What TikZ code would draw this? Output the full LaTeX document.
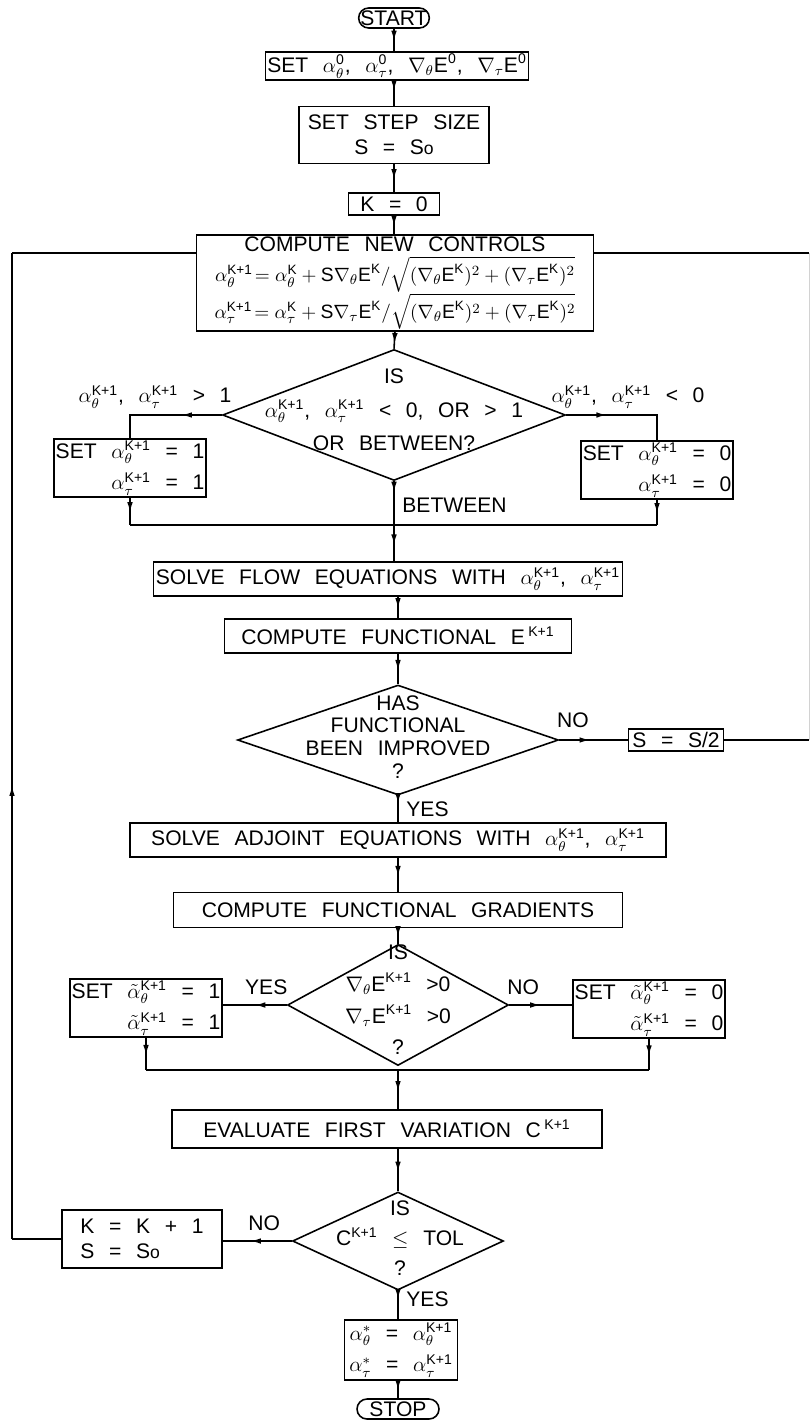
\documentclass[tikz,border=0pt]{standalone}
\usepackage{amsmath}
\usepackage{fontspec}
\setmainfont{Liberation Sans}[WordSpace=2.5]
\usetikzlibrary{arrows.meta, positioning, shapes.geometric, calc, decorations.markings}

\newcommand{\alth}[1]{\alpha_\theta^{\text{#1}}}
\newcommand{\alta}[1]{\alpha_\tau^{\text{#1}}}
\newcommand{\tlth}[1]{\tilde{\alpha}_\theta^{\text{#1}}}
\newcommand{\tlta}[1]{\tilde{\alpha}_\tau^{\text{#1}}}
\newcommand{\gradE}[2]{\nabla_{#1}\text{E}^{\text{#2}}}

\begin{document}
\begin{tikzpicture}[x=0.02cm, y=-0.02cm, line width=0.9pt, >=Latex,
  font=\fontsize{12}{14}\selectfont,
  box/.style={draw, inner sep=1pt, align=center},
  twoline/.style={font=\fontsize{12}{18}\selectfont},
  term/.style={draw, rounded corners=0.2cm, inner sep=1pt, minimum height=0.4cm},
  decision/.style={draw, diamond, inner sep=0pt},
  dtext/.style={align=center, inner sep=0pt},
  flow/.style={postaction={decorate}, decoration={markings,
    mark=at position #1 with {\arrow{Latex[length=6pt,width=3.2pt]}}}},
  flow/.default=0.55]
\useasboundingbox (0,0) rectangle (811,1426);
% main column, top part
\node[term, minimum width=1.4cm] (start) at (394,18) {START};
\node[box, minimum width=5.2cm, minimum height=0.56cm] (init) at (397,66)
  {SET $\alth{0}$, $\alta{0}$, $\gradE{\theta}{0}$, $\gradE{\tau}{0}$};
\node[box, minimum width=3.8cm, minimum height=1.14cm] (stepsize) at (394,135) {SET STEP SIZE\\S = S{\fontsize{10}{12}\selectfont o}};
\node[box, minimum width=1.82cm, minimum height=0.44cm] (kzero) at (394,204) {K = 0};
\node[box, minimum width=7.94cm, minimum height=1.74cm, font=\fontsize{12}{17}\selectfont] (ctrl) at (395,283)
  {COMPUTE NEW CONTROLS\\
   {\fontsize{11}{13}\selectfont $\alth{K+1}\!= \alth{K}+\text{S}\gradE{\theta}{K}/\sqrt{(\gradE{\theta}{K})^2+(\gradE{\tau}{K})^2}$}\\
   {\fontsize{11}{13}\selectfont $\alta{K+1}\!= \alta{K}+\text{S}\gradE{\tau}{K}/\sqrt{(\gradE{\theta}{K})^2+(\gradE{\tau}{K})^2}$}};
\draw[flow] (start.south) -- (start.south |- init.north);
\draw[flow=0.4] (init.south -| stepsize.north) -- (stepsize.north);
\draw[flow] (stepsize.south) -- (kzero.north);
\draw[flow] (kzero.south) -- (kzero.south |- ctrl.north);

% first check: bounds of the controls
\node[decision, minimum width=6.86cm, minimum height=2.62cm] (chk1) at (394,415) {};
\node[dtext, font=\fontsize{12}{19}\selectfont] (chk1txt) at (394,410)
  {IS\\$\alth{K+1}$, $\alta{K+1}$ < 0, OR > 1\\OR BETWEEN?};
\node (gtone) at (155,397) {$\alth{K+1}$, $\alta{K+1}$ > 1};
\node (ltzero) at (628,397) {$\alth{K+1}$, $\alta{K+1}$ < 0};
\node[box, twoline, align=right, minimum width=2.84cm, minimum height=1.1cm] (setone) at (130,468)
  {SET $\alth{K+1}$ = 1\\$\alta{K+1}$ = 1};
\node[box, twoline, align=right, minimum width=2.34cm, minimum height=1.08cm] (setzero) at (657,470)
  {SET $\alth{K+1}$ = 0\\$\alta{K+1}$ = 0};
\coordinate (m1) at (394,525);
\draw[flow=0.7] (ctrl.south) -- (chk1.north);
\draw[flow=0.35] (chk1.west) -| (setone.north);
\draw[flow=0.35] (chk1.east) -| (setzero.north);
\draw[flow] (setone.south) -- (setone.south |- m1);
\draw[flow] (setzero.south) -- (setzero.south |- m1);
\draw (setone.south |- m1) -- (setzero.south |- m1);
\draw[flow=0.25] (chk1.south) -- node[right=1pt, pos=0.55] {BETWEEN} (m1);

% flow equations and functional
\node[box, minimum width=9.38cm, minimum height=0.68cm] (solflow) at (388,579)
  {SOLVE FLOW EQUATIONS WITH $\alth{K+1}$, $\alta{K+1}$};
\node[box, minimum width=6.94cm, minimum height=0.68cm] (func) at (398,636)
  {COMPUTE FUNCTIONAL E\,$^{\text{K+1}}$};
\draw[flow] (m1) -- (m1 |- solflow.north);
\draw[flow] (func.north |- solflow.south) -- (func.north);

% second check: improvement
\node[decision, minimum width=6.42cm, minimum height=2.2cm] (chk2) at (398,740) {};
\node[dtext, font=\fontsize{12}{13}\selectfont] (chk2txt) at (398,737)
  {HAS\\FUNCTIONAL\\BEEN IMPROVED\\?};
\node[box, minimum width=1.9cm, minimum height=0.44cm] (halve) at (676,740) {S = S/2};
\coordinate (rb) at (809,740);
\coordinate (rt) at (809,253);
\draw[flow] (func.south) -- (chk2.north);
\draw[flow=0.45] (chk2.east) -- node[above=3pt, pos=0.2] {NO} (halve.west);
\draw (halve.east) -- (rb);
\draw[gray!35, line width=0.5pt] (rb) -- (rt);
\draw (rt) -- (rt -| ctrl.east);

% adjoint and gradients
\node[box, minimum width=10.72cm, minimum height=0.68cm] (soladj) at (398,840)
  {SOLVE ADJOINT EQUATIONS WITH $\alth{K+1}$, $\alta{K+1}$};
\node[box, minimum width=8.98cm, minimum height=0.7cm] (grads) at (398,910)
  {COMPUTE FUNCTIONAL GRADIENTS};
\draw[flow=0.3] (chk2.south) -- node[right=1pt, pos=0.5] {YES} (soladj.north);
\draw[flow] (soladj.south) -- (grads.north);

% third check: sign of the gradients
\node[decision, minimum width=4.42cm, minimum height=2.42cm] (chk3) at (398,1005) {};
\node[dtext, font=\fontsize{12}{18}\selectfont] (chk3txt) at (398,1000)
  {IS\\$\gradE{\theta}{K+1}$ >0\\$\gradE{\tau}{K+1}$ >0\\?};
\node[box, twoline, align=right, minimum width=3.04cm, minimum height=0.96cm] (tone) at (146,1008)
  {SET $\tlth{K+1}$ = 1\\$\tlta{K+1}$ = 1};
\node[box, twoline, align=right, minimum width=2.96cm, minimum height=0.96cm] (tzero) at (649,1009)
  {SET $\tlth{K+1}$ = 0\\$\tlta{K+1}$ = 0};
\coordinate (m3) at (398,1070);
\draw[flow] (grads.south) -- (chk3.north);
\draw[flow=0.5] (chk3.west) -- node[above=2pt, pos=0.32] {YES} (tone.east |- chk3.west);
\draw[flow=0.5] (chk3.east) -- node[above=2pt, pos=0.22] {NO} (tzero.west |- chk3.east);
\draw[flow] (tone.south) -- (tone.south |- m3);
\draw[flow] (tzero.south) -- (tzero.south |- m3);
\draw (tone.south |- m3) -- (tzero.south |- m3);

% first variation and stopping test
\node[box, minimum width=8.6cm, minimum height=0.76cm] (evalc) at (387,1129)
  {EVALUATE FIRST VARIATION C\,$^{\text{K+1}}$};
\node[decision, minimum width=4.22cm, minimum height=1.96cm] (chk4) at (398,1241) {};
\node[dtext, font=\fontsize{12}{17}\selectfont] (chk4txt) at (400,1238)
  {IS\\C$^{\text{K+1}}$ $\leq$ TOL\\?};
\node[box, align=left, minimum width=3.2cm, minimum height=1.16cm] (kinc) at (142,1239)
  {K = K + 1\\S = S{\fontsize{10}{12}\selectfont o}};
\node[box, twoline, minimum width=2.26cm, minimum height=1.2cm] (opt) at (401,1350)
  {$\alpha_\theta^{*}$ = $\alth{K+1}$\\$\alpha_\tau^{*}$ = $\alta{K+1}$};
\node[term, minimum width=1.64cm] (stop) at (398,1409) {STOP};
\coordinate (lb) at (12,1239);
\coordinate (lt) at (12,253);
\draw[flow] (m3) -- (m3 |- evalc.north);
\draw[flow] (chk4.north |- evalc.south) -- (chk4.north);
\draw[flow=0.6] (chk4.west) -- node[above=2pt, pos=0.4] {NO} (kinc.east |- chk4.west);
\draw (kinc.west) -- (lb);
\draw[flow=0.46] (lb) -- (lt);
\draw (lt) -- (lt -| ctrl.west);
\draw[flow=0.3] (chk4.south) -- node[right=1pt, pos=0.3] {YES} (chk4.south |- opt.north);
\draw[flow] (opt.south -| stop.north) -- (stop.north);
\end{tikzpicture}
\end{document}
